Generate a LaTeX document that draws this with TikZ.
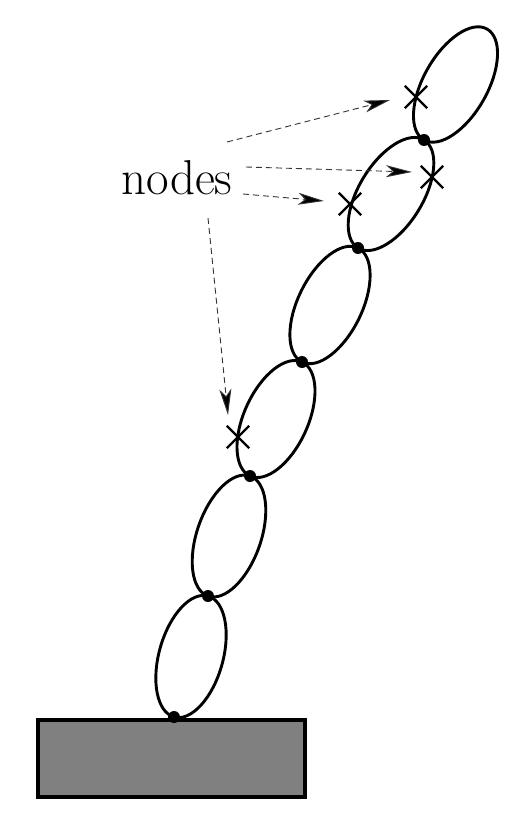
\documentclass[tikz,border=0pt]{standalone}
\usetikzlibrary{arrows.meta,shapes.misc}
\begin{document}
\begin{tikzpicture}[x=1pt,y=-1pt,
  link/.style={line width=2.9pt},
  dotmark/.style={circle,fill=black,inner sep=0pt,minimum size=12pt},
  crossmark/.style={cross out,draw=black,line width=2.4pt,inner sep=0pt,minimum size=20pt},
  pointer/.style={dash pattern=on 6pt off 4pt,line width=0.9pt,draw=black!80,
    -{Stealth[length=26pt,width=12pt,inset=7pt,fill=black]}},
  base/.style={draw=black,line width=4pt,fill=black!50}]
\useasboundingbox (0,0) rectangle (527,821);
% base block
\draw[base] (38,720) rectangle (305,797);
% chain links
\draw[link,shift={(191,656.5)},rotate=74.3] (0,0) ellipse [x radius=62.8pt,y radius=32pt];
\draw[link,shift={(229,536)},rotate=70.7] (0,0) ellipse [x radius=63.6pt,y radius=32pt];
\draw[link,shift={(276,419)},rotate=65.5] (0,0) ellipse [x radius=62.6pt,y radius=32pt];
\draw[link,shift={(330,305)},rotate=63.8] (0,0) ellipse [x radius=63.5pt,y radius=32pt];
\draw[link,shift={(391,194)},rotate=58.6] (0,0) ellipse [x radius=63.3pt,y radius=32pt];
\draw[link,shift={(455.5,84.5)},rotate=60.4] (0,0) ellipse [x radius=63.8pt,y radius=32pt];
% joints
\node[dotmark] (p0) at (174,717) {};
\node[dotmark] (p1) at (208,596) {};
\node[dotmark] (p2) at (250,476) {};
\node[dotmark] (p3) at (302,362) {};
\node[dotmark] (p4) at (358,248) {};
\node[dotmark] (p5) at (424,140) {};
% crosses
\node[crossmark] (x1) at (416,97) {};
\node[crossmark] (x2) at (432,177) {};
\node[crossmark] (x3) at (350,204) {};
\node[crossmark] (x4) at (238,437) {};
% label
\node[anchor=base west,inner sep=0pt,font=\fontsize{49}{58}\selectfont] (lbl) at (121,194) {nodes};
% arrow ends
\coordinate (s1) at (227,142);
\coordinate (e1) at (390,100);
\coordinate (s2) at (246,167);
\coordinate (e2) at (412,172);
\coordinate (s3) at (243,194);
\coordinate (e3) at (324,201);
\coordinate (s4) at (208,218);
\coordinate (e4) at (228,415);
\draw[pointer] (s1) -- (e1);
\draw[pointer] (s2) -- (e2);
\draw[pointer] (s3) -- (e3);
\draw[pointer] (s4) -- (e4);
\end{tikzpicture}
\end{document}
